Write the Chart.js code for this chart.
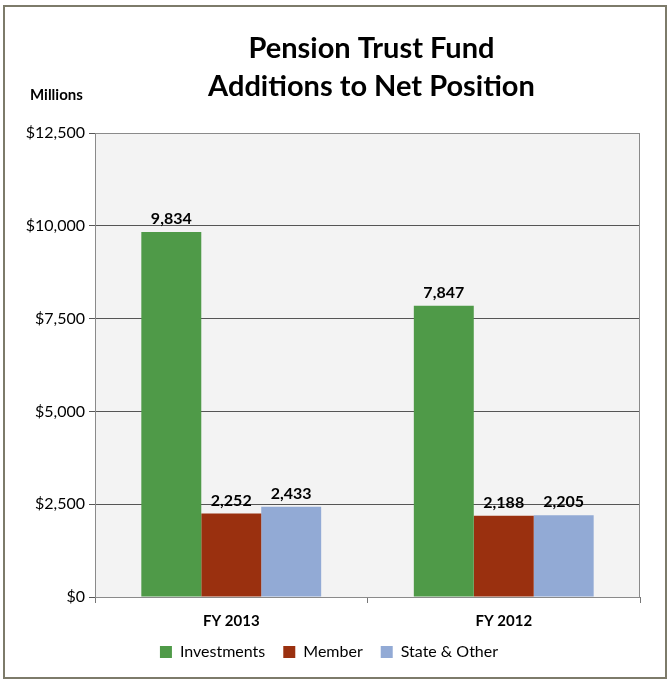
<!DOCTYPE html>
<html>
<head>
<meta charset="utf-8">
<script src="https://cdn.jsdelivr.net/npm/chart.js@4/dist/chart.umd.min.js"></script>
<style>
  html, body { margin: 0; padding: 0; background: #fff; }
  #wrap { width: 669px; height: 681px; }
</style>
</head>
<body>
<div id="wrap"><canvas id="chart" width="669" height="681"></canvas></div>
<script>
// data
const years = ['FY 2013', 'FY 2012'];
const investments = [9834, 7847];
const member = [2252, 2188];
const stateOther = [2433, 2205];
const yTicks = [0, 2500, 5000, 7500, 10000, 12500];

const FONT = 'Lato, "Open Sans", sans-serif';

// frame, plot background, title, "Millions"
const framePlugin = {
    id: 'frame',
    beforeDraw(chart) {
        const ctx = chart.ctx;
        const a = chart.chartArea;
        ctx.save();
        ctx.fillStyle = '#fff';
        ctx.fillRect(0, 0, chart.width, chart.height);
        ctx.strokeStyle = '#7d7b6a';
        ctx.lineWidth = 2;
        ctx.strokeRect(4, 6, 662, 672);
        ctx.fillStyle = '#f3f3f3';
        ctx.fillRect(a.left, a.top, a.right - a.left, a.bottom - a.top);
        ctx.restore();
    },
    afterDraw(chart) {
        const ctx = chart.ctx;
        const a = chart.chartArea;
        ctx.save();
        ctx.strokeStyle = '#8a8a8a';
        ctx.lineWidth = 1;
        ctx.strokeRect(a.left + 0.5, a.top + 0.5, a.right - a.left - 1, a.bottom - a.top);
        ctx.fillStyle = '#000';
        ctx.textAlign = 'center';
        ctx.textBaseline = 'alphabetic';
        ctx.font = 'bold 29px ' + FONT;
        const cx = (a.left + a.right) / 2 + 4;
        ctx.fillText('Pension Trust Fund', cx, 58);
        ctx.fillText('Additions to Net Position', cx, 96);
        ctx.textAlign = 'left';
        ctx.font = 'bold 15px ' + FONT;
        ctx.fillText('Millions', 30, 100);
        ctx.restore();
    }
};

// value labels above each bar
const labelPlugin = {
    id: 'barLabels',
    afterDatasetsDraw(chart) {
        const ctx = chart.ctx;
        ctx.save();
        ctx.fillStyle = '#000';
        ctx.font = 'bold 16px ' + FONT;
        ctx.textAlign = 'center';
        ctx.textBaseline = 'bottom';
        chart.data.datasets.forEach((ds, i) => {
            chart.getDatasetMeta(i).data.forEach((bar, j) => {
                ctx.fillText(ds.data[j].toLocaleString('en-US'), bar.x, bar.y - 5);
            });
        });
        ctx.restore();
    }
};

new Chart(document.getElementById('chart'), {
    type: 'bar',
    data: {
        labels: years,
        datasets: [
            { label: 'Investments', data: investments, backgroundColor: '#4f9a48' },
            { label: 'Member', data: member, backgroundColor: '#9a300f' },
            { label: 'State & Other', data: stateOther, backgroundColor: '#92aad5' }
        ]
    },
    options: {
        responsive: false,
        animation: false,
        datasets: { bar: { categoryPercentage: 0.66, barPercentage: 1.0 } },
        layout: { padding: { left: 18, right: 29, top: 133, bottom: 11 } },
        plugins: {
            legend: {
                position: 'bottom',
                labels: {
                    boxWidth: 12, boxHeight: 12, padding: 18,
                    color: '#000', font: { family: FONT, size: 16 }
                }
            },
            tooltip: { enabled: false }
        },
        scales: {
            x: {
                afterFit(scale) { scale.height -= 13; },
                grid: { drawOnChartArea: false, drawTicks: true, tickLength: 6, color: '#777' },
                border: { color: '#777' },
                ticks: { color: '#000', font: { family: FONT, size: 15, weight: 'bold' }, padding: 9 }
            },
            y: {
                min: 0, max: 12500,
                afterBuildTicks(scale) { scale.ticks = yTicks.map(v => ({ value: v })); },
                afterFit(scale) { scale.width = 77; },
                grid: { color: '#555', tickLength: 6 },
                border: { color: '#777' },
                ticks: {
                    color: '#000', padding: 4,
                    font: { family: FONT, size: 16 },
                    callback: v => '$' + v.toLocaleString('en-US')
                }
            }
        }
    },
    plugins: [framePlugin, labelPlugin]
});
</script>
</body>
</html>
